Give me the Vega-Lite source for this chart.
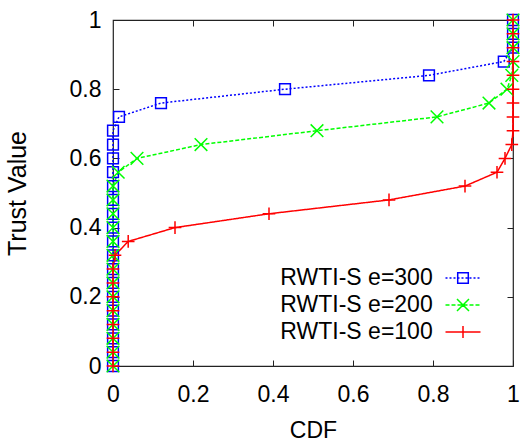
{
  "$schema": "https://vega.github.io/schema/vega-lite/v6.json",
  "width": 400,
  "height": 346,
  "autosize": {"type": "none"},
  "padding": {"left": 113, "top": 20, "right": 7, "bottom": 78},
  "background": "white",
  "config": {
    "view": {"stroke": "#222", "strokeWidth": 1.2},
    "font": "Liberation Sans",
    "axis": {
      "labelFont": "Liberation Sans", "titleFont": "Liberation Sans",
      "labelFontSize": 23, "titleFontSize": 23, "labelColor": "#000", "titleColor": "#000",
      "titleFontWeight": "normal", "domain": false, "grid": false, "labelFlush": false,
      "tickColor": "#222", "tickWidth": 1, "tickSize": -6, "labelOverlap": false
    },
    "legend": {
      "orient": "none", "legendX": 338.5, "legendY": 246.5, "title": null,
      "symbolSize": 400, "symbolStrokeWidth": 1.5, "symbolOpacity": 1, "symbolFillColor": "transparent",
      "labelFont": "Liberation Sans", "labelFontSize": 23, "labelColor": "#000",
      "labelAlign": "right", "labelOffset": -41.8, "labelLimit": 0, "padding": 0, "rowPadding": 3
    }
  },
  "data": {"values": [
    {"series": "RWTI-S e=300", "trust": 0, "cdf": 0},
    {"series": "RWTI-S e=300", "trust": 0.04, "cdf": 0},
    {"series": "RWTI-S e=300", "trust": 0.08, "cdf": 0},
    {"series": "RWTI-S e=300", "trust": 0.12, "cdf": 0},
    {"series": "RWTI-S e=300", "trust": 0.16, "cdf": 0},
    {"series": "RWTI-S e=300", "trust": 0.2, "cdf": 0},
    {"series": "RWTI-S e=300", "trust": 0.24, "cdf": 0},
    {"series": "RWTI-S e=300", "trust": 0.28, "cdf": 0},
    {"series": "RWTI-S e=300", "trust": 0.32, "cdf": 0},
    {"series": "RWTI-S e=300", "trust": 0.36, "cdf": 0},
    {"series": "RWTI-S e=300", "trust": 0.4, "cdf": 0},
    {"series": "RWTI-S e=300", "trust": 0.44, "cdf": 0},
    {"series": "RWTI-S e=300", "trust": 0.48, "cdf": 0},
    {"series": "RWTI-S e=300", "trust": 0.52, "cdf": 0},
    {"series": "RWTI-S e=300", "trust": 0.56, "cdf": 0},
    {"series": "RWTI-S e=300", "trust": 0.6, "cdf": 0},
    {"series": "RWTI-S e=300", "trust": 0.64, "cdf": 0},
    {"series": "RWTI-S e=300", "trust": 0.68, "cdf": 0},
    {"series": "RWTI-S e=300", "trust": 0.72, "cdf": 0.015},
    {"series": "RWTI-S e=300", "trust": 0.76, "cdf": 0.12},
    {"series": "RWTI-S e=300", "trust": 0.8, "cdf": 0.43},
    {"series": "RWTI-S e=300", "trust": 0.84, "cdf": 0.79},
    {"series": "RWTI-S e=300", "trust": 0.88, "cdf": 0.977},
    {"series": "RWTI-S e=300", "trust": 0.92, "cdf": 1},
    {"series": "RWTI-S e=300", "trust": 0.96, "cdf": 1},
    {"series": "RWTI-S e=300", "trust": 1, "cdf": 1},
    {"series": "RWTI-S e=200", "trust": 0, "cdf": 0},
    {"series": "RWTI-S e=200", "trust": 0.04, "cdf": 0},
    {"series": "RWTI-S e=200", "trust": 0.08, "cdf": 0},
    {"series": "RWTI-S e=200", "trust": 0.12, "cdf": 0},
    {"series": "RWTI-S e=200", "trust": 0.16, "cdf": 0},
    {"series": "RWTI-S e=200", "trust": 0.2, "cdf": 0},
    {"series": "RWTI-S e=200", "trust": 0.24, "cdf": 0},
    {"series": "RWTI-S e=200", "trust": 0.28, "cdf": 0},
    {"series": "RWTI-S e=200", "trust": 0.32, "cdf": 0},
    {"series": "RWTI-S e=200", "trust": 0.36, "cdf": 0},
    {"series": "RWTI-S e=200", "trust": 0.4, "cdf": 0},
    {"series": "RWTI-S e=200", "trust": 0.44, "cdf": 0},
    {"series": "RWTI-S e=200", "trust": 0.48, "cdf": 0},
    {"series": "RWTI-S e=200", "trust": 0.52, "cdf": 0},
    {"series": "RWTI-S e=200", "trust": 0.56, "cdf": 0.013},
    {"series": "RWTI-S e=200", "trust": 0.6, "cdf": 0.06},
    {"series": "RWTI-S e=200", "trust": 0.64, "cdf": 0.22},
    {"series": "RWTI-S e=200", "trust": 0.68, "cdf": 0.51},
    {"series": "RWTI-S e=200", "trust": 0.72, "cdf": 0.81},
    {"series": "RWTI-S e=200", "trust": 0.76, "cdf": 0.94},
    {"series": "RWTI-S e=200", "trust": 0.8, "cdf": 0.985},
    {"series": "RWTI-S e=200", "trust": 0.84, "cdf": 0.997},
    {"series": "RWTI-S e=200", "trust": 0.88, "cdf": 1},
    {"series": "RWTI-S e=200", "trust": 0.92, "cdf": 1},
    {"series": "RWTI-S e=200", "trust": 0.96, "cdf": 1},
    {"series": "RWTI-S e=200", "trust": 1, "cdf": 1},
    {"series": "RWTI-S e=100", "trust": 0, "cdf": 0},
    {"series": "RWTI-S e=100", "trust": 0.04, "cdf": 0},
    {"series": "RWTI-S e=100", "trust": 0.08, "cdf": 0},
    {"series": "RWTI-S e=100", "trust": 0.12, "cdf": 0},
    {"series": "RWTI-S e=100", "trust": 0.16, "cdf": 0},
    {"series": "RWTI-S e=100", "trust": 0.2, "cdf": 0},
    {"series": "RWTI-S e=100", "trust": 0.24, "cdf": 0},
    {"series": "RWTI-S e=100", "trust": 0.28, "cdf": 0},
    {"series": "RWTI-S e=100", "trust": 0.32, "cdf": 0.005},
    {"series": "RWTI-S e=100", "trust": 0.36, "cdf": 0.038},
    {"series": "RWTI-S e=100", "trust": 0.4, "cdf": 0.155},
    {"series": "RWTI-S e=100", "trust": 0.44, "cdf": 0.39},
    {"series": "RWTI-S e=100", "trust": 0.48, "cdf": 0.69},
    {"series": "RWTI-S e=100", "trust": 0.52, "cdf": 0.88},
    {"series": "RWTI-S e=100", "trust": 0.56, "cdf": 0.96},
    {"series": "RWTI-S e=100", "trust": 0.6, "cdf": 0.98},
    {"series": "RWTI-S e=100", "trust": 0.64, "cdf": 0.997},
    {"series": "RWTI-S e=100", "trust": 0.68, "cdf": 1},
    {"series": "RWTI-S e=100", "trust": 0.72, "cdf": 1},
    {"series": "RWTI-S e=100", "trust": 0.76, "cdf": 1},
    {"series": "RWTI-S e=100", "trust": 0.8, "cdf": 1},
    {"series": "RWTI-S e=100", "trust": 0.84, "cdf": 1},
    {"series": "RWTI-S e=100", "trust": 0.88, "cdf": 1},
    {"series": "RWTI-S e=100", "trust": 0.92, "cdf": 1},
    {"series": "RWTI-S e=100", "trust": 0.96, "cdf": 1},
    {"series": "RWTI-S e=100", "trust": 1, "cdf": 1}
  ]},
  "layer": [
    {
      "mark": {"type": "line", "strokeWidth": 1.5, "clip": false},
      "encoding": {
        "x": {"field": "cdf", "type": "quantitative",
          "scale": {"domain": [0, 1], "nice": false, "zero": false},
          "axis": {"orient": "bottom", "values": [0, 0.2, 0.4, 0.6, 0.8, 1], "format": "~g",
            "title": "CDF", "labelPadding": 23, "titlePadding": 13}},
        "y": {"field": "trust", "type": "quantitative",
          "scale": {"domain": [0, 1], "nice": false, "zero": false},
          "axis": {"orient": "left", "values": [0, 0.2, 0.4, 0.6, 0.8, 1], "format": "~g",
            "title": "Trust Value", "titleFontSize": 25, "labelPadding": 18, "titlePadding": 39}},
        "color": {"field": "series", "type": "nominal",
          "scale": {"domain": ["RWTI-S e=300", "RWTI-S e=200", "RWTI-S e=100"], "range": ["#0000ff", "#00ff00", "#ff0000"]},
          "legend": null},
        "strokeDash": {"field": "series", "type": "nominal",
          "scale": {"domain": ["RWTI-S e=300", "RWTI-S e=200", "RWTI-S e=100"], "range": [[2, 2], [4, 2], [1, 0]]},
          "legend": null},
        "order": {"field": "trust", "type": "quantitative"}
      }
    },
    {
      "mark": {"type": "point", "filled": false, "strokeWidth": 1.5, "size": 160, "opacity": 1, "clip": false},
      "encoding": {
        "x": {"field": "cdf", "type": "quantitative",
          "axis": {"orient": "top", "values": [0.2, 0.4, 0.6, 0.8], "labels": false, "title": null}},
        "y": {"field": "trust", "type": "quantitative",
          "axis": {"orient": "right", "values": [0.2, 0.4, 0.6, 0.8], "labels": false, "title": null}},
        "color": {"field": "series", "type": "nominal", "legend": null},
        "shape": {"field": "series", "type": "nominal", "legend": null,
          "scale": {"domain": ["RWTI-S e=300", "RWTI-S e=200", "RWTI-S e=100"],
            "range": ["M-0.85,-0.85H0.85V0.85H-0.85Z", "M-1,-1L1,1M-1,1L1,-1", "M-1,0H1M0,-1V1"]}}
      }
    },
    {
      "mark": {"type": "point", "filled": false, "strokeWidth": 1.5, "opacity": 0, "clip": false},
      "encoding": {
        "x": {"field": "cdf", "type": "quantitative", "axis": null},
        "y": {"field": "trust", "type": "quantitative", "axis": null},
        "color": {"field": "series", "type": "nominal", "legend": {"title": null}},
        "shape": {"field": "series", "type": "nominal", "legend": {"title": null},
          "scale": {"domain": ["RWTI-S e=300", "RWTI-S e=200", "RWTI-S e=100"],
            "range": [
              "M-1.75,0H-1.55M-1.35,0H-1.15M-0.95,0H-0.75M-0.55,0H-0.35M-0.15,0H0.05M0.25,0H0.45M0.65,0H0.85M1.05,0H1.25M1.45,0H1.65M-0.53,-0.53H0.53V0.53H-0.53Z",
              "M-1.75,0H-1.35M-1.15,0H-0.75M-0.55,0H-0.15M0.05,0H0.45M0.65,0H1.05M1.25,0H1.65M-0.6,-0.6L0.6,0.6M-0.6,0.6L0.6,-0.6",
              "M-1.75,0H1.75M0,-0.6V0.6"
            ]}}
      }
    }
  ],
  "resolve": {
    "axis": {"x": "independent", "y": "independent"},
    "scale": {"shape": "independent"},
    "legend": {"color": "independent", "shape": "independent"}
  }
}
